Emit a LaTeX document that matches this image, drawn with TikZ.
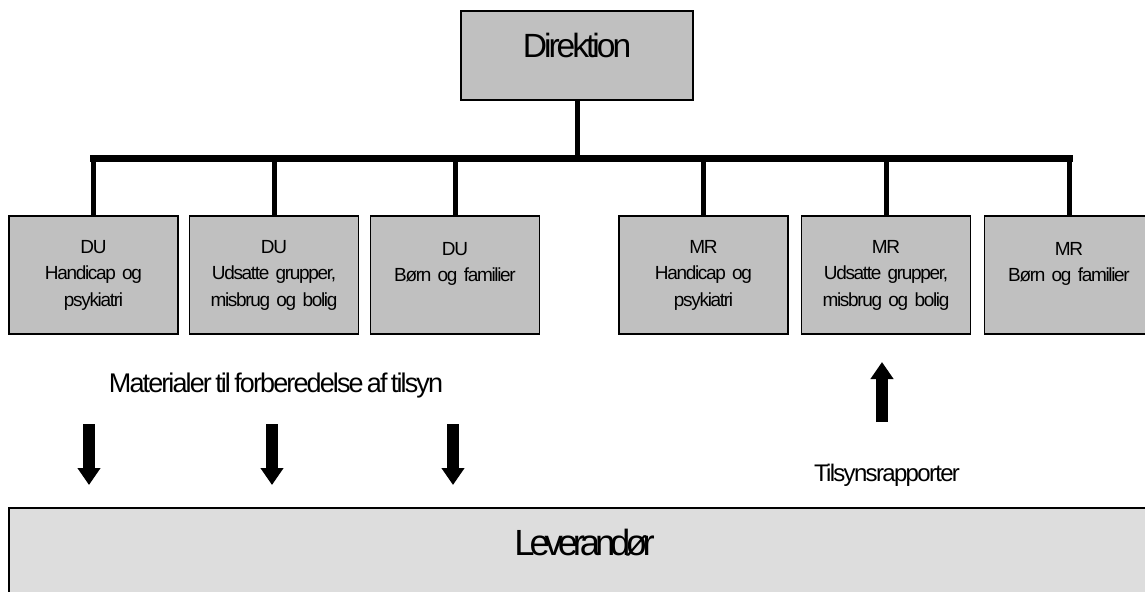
\documentclass[tikz,border=0pt]{standalone}
\usepackage{fontspec}
\setmainfont{Liberation Sans}[LetterSpace=-7,WordSpace=0.6]
\newfontfamily\boardfont{Liberation Sans}[LetterSpace=-9]
\newfontfamily\supplierfont{Liberation Sans}[LetterSpace=-14]
\usetikzlibrary{arrows.meta}
\definecolor{boxgray}{HTML}{C0C0C0}
\definecolor{floorgray}{HTML}{DDDDDD}
\tikzstyle{board}=[rectangle,
                   draw,
                   fill=boxgray,
                   line width=0.7pt,
                   minimum width=116pt,
                   minimum height=44.5pt,
                   inner sep=0pt,
                   text height=12pt,
                   text depth=10.5pt,
                   font=\boardfont\fontsize{16.8}{20}\selectfont]
\tikzstyle{dept}=[rectangle,
                  draw,
                  fill=boxgray,
                  line width=0.7pt,
                  minimum width=84.5pt,
                  minimum height=59pt,
                  inner sep=0pt,
                  text width=82pt,
                  align=center,
                  font=\fontsize{9.5}{13.25}\selectfont]
\tikzstyle{supplier}=[rectangle,
                      draw,
                      fill=floorgray,
                      line width=1pt,
                      minimum width=575.5pt,
                      minimum height=50pt,
                      inner sep=0pt,
                      text height=13pt,
                      text depth=16pt,
                      font=\supplierfont\fontsize{18.2}{22}\selectfont]
\tikzstyle{note}=[anchor=base, inner sep=0pt]
\tikzstyle{bus}=[line width=3.5pt, line cap=rect]
\tikzstyle{drop}=[line width=2.5pt]
\tikzstyle{flow}=[line width=6pt, -{Triangle[width=11pt,length=8.5pt]}]

\begin{document}
\begin{tikzpicture}[x=0.5pt,y=-0.5pt]
      \useasboundingbox (0,0) rectangle (1145,591);
      \clip (0,0) rectangle (1145,591);

      \node[board] (dir) at (577,55.5) {Direktion};
      \coordinate (bus) at (577,158);

      \node[dept] (du1) at (93.5,275) {DU\\Handicap og\\psykiatri};
      \node[dept] (du2) at (274,275)  {DU\\Udsatte grupper,\\misbrug og bolig};
      \node[dept] (du3) at (455,275)  {DU\\Børn og familier\\\mbox{}};
      \node[dept] (mr1) at (703.5,275) {MR\\Handicap og\\psykiatri};
      \node[dept] (mr2) at (886,275)  {MR\\Udsatte grupper,\\misbrug og bolig};
      \node[dept] (mr3) at (1069,275) {MR\\Børn og familier\\\mbox{}};

      \draw[drop] (dir.south) -- (bus);
      \draw[bus] (du1.north |- bus) -- (mr3.north |- bus);
      \draw[drop] (du1.north |- bus) -- (du1.north);
      \draw[drop] (du2.north |- bus) -- (du2.north);
      \draw[drop] (du3.north |- bus) -- (du3.north);
      \draw[drop] (mr1.north |- bus) -- (mr1.north);
      \draw[drop] (mr2.north |- bus) -- (mr2.north);
      \draw[drop] (mr3.north |- bus) -- (mr3.north);

      \node[supplier] (lev) at (584.5,558) {Leverandør};

      \node[note, font=\fontsize{13.5}{15}\selectfont] (mat) at (276,392) {Materialer til forberedelse af tilsyn};
      \node[note, font=\fontsize{12}{14}\selectfont] (rap) at (887,481) {Tilsynsrapporter};

      % materialer ned til leverandor
      \coordinate (in1) at (89,424);  \coordinate (in1tip) at (89,485);
      \coordinate (in2) at (272,424); \coordinate (in2tip) at (272,485);
      \coordinate (in3) at (453,424); \coordinate (in3tip) at (453,485);
      \draw[flow] (in1) -- (in1tip);
      \draw[flow] (in2) -- (in2tip);
      \draw[flow] (in3) -- (in3tip);

      % rapporter op
      \coordinate (out1) at (882,422); \coordinate (out1tip) at (882,362);
      \draw[flow] (out1) -- (out1tip);
\end{tikzpicture}
\end{document}
